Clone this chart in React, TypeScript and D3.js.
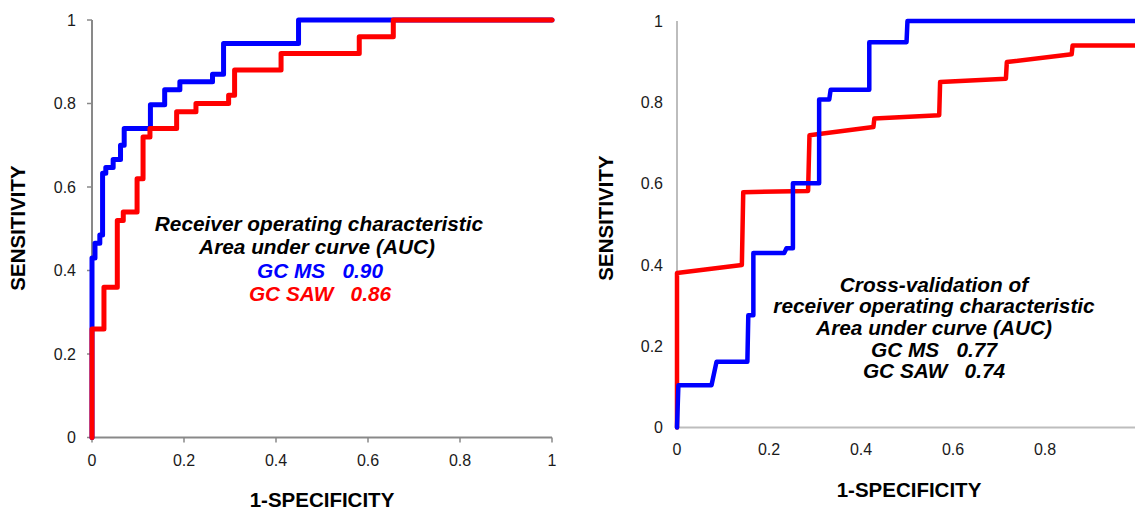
import React from "react";
import * as d3 from "d3";

const W = 1135;
const H = 511;

// Left chart: ROC (step vertices: x where curve rises, y after rise)
const leftMsX = [0, 0, 0.0065, 0.017, 0.023, 0.03, 0.046, 0.062, 0.07, 0.127, 0.158, 0.191, 0.262, 0.286, 0.449, 1];
const leftMsY = [0, 0.43, 0.465, 0.485, 0.633, 0.647, 0.666, 0.7, 0.74, 0.797, 0.833, 0.852, 0.87, 0.944, 1, 1];
const leftSawX = [0, 0, 0.026, 0.055, 0.068, 0.098, 0.111, 0.126, 0.184, 0.226, 0.297, 0.31, 0.411, 0.581, 0.655, 1];
const leftSawY = [0, 0.26, 0.36, 0.52, 0.54, 0.62, 0.72, 0.74, 0.78, 0.8, 0.82, 0.88, 0.92, 0.96, 1, 1];

// Right chart: cross-validation ROC (explicit vertices)
const rightMsX = [0, 0.003, 0.075, 0.086, 0.153, 0.155, 0.166, 0.166, 0.233, 0.238, 0.252, 0.252, 0.309, 0.309, 0.331, 0.334, 0.418, 0.418, 0.499, 0.501, 1];
const rightMsY = [0, 0.104, 0.104, 0.162, 0.162, 0.276, 0.276, 0.429, 0.429, 0.441, 0.441, 0.601, 0.601, 0.807, 0.807, 0.831, 0.831, 0.948, 0.948, 1, 1];
const rightSawX = [0, 0, 0.141, 0.144, 0.285, 0.288, 0.427, 0.429, 0.57, 0.572, 0.715, 0.717, 0.858, 0.86, 1];
const rightSawY = [0, 0.38, 0.4, 0.579, 0.582, 0.719, 0.739, 0.76, 0.768, 0.85, 0.858, 0.899, 0.918, 0.94, 0.94];

const tickValues = [0, 0.2, 0.4, 0.6, 0.8, 1];
const tickLabels = ["0", "0.2", "0.4", "0.6", "0.8", "1"];
// right x axis: the "1" label falls outside the picture
const rightXTickValues = [0, 0.2, 0.4, 0.6, 0.8];
const rightXTickLabels = ["0", "0.2", "0.4", "0.6", "0.8"];

const leftNote = ["Receiver operating characteristic", "Area under curve (AUC)"];
const leftMsLabel = "GC MS   0.90";
const leftSawLabel = "GC SAW   0.86";
const rightNote = ["Cross-validation of", "receiver operating characteristic", "Area under curve (AUC)", "GC MS   0.77", "GC SAW   0.74"];

const FONT = "'Liberation Sans', Arial, sans-serif";
const BLUE = "#0000ff";
const RED = "#ff0000";

const nb = (s: string) => s.replace(/ /g, "\u00a0");

function zip(xs: number[], ys: number[]): [number, number][] {
  return xs.map((x, i) => [x, ys[i]]);
}

export default function App() {
  const lx = d3.scaleLinear().domain([0, 1]).range([92, 552]);
  const ly = d3.scaleLinear().domain([0, 1]).range([437.5, 20]);
  const leftLine = d3
    .line<[number, number]>()
    .x((d) => lx(d[0]))
    .y((d) => ly(d[1]))
    .curve(d3.curveStepAfter);

  const rx = d3.scaleLinear().domain([0, 1]).range([677, 1137]);
  const ry = d3.scaleLinear().domain([0, 1]).range([427.5, 21]);
  const rightLine = d3
    .line<[number, number]>()
    .x((d) => rx(d[0]))
    .y((d) => ry(d[1]));

  const leftAxisColor = "#898989";
  const rightAxisColor = "#bdbdbd";
  const noteSize = 20.8;
  const titleSize = 20.5;

  return (
    <svg
      width={W}
      height={H}
      style={{ position: "absolute", left: 0, top: 0, background: "#fff" }}
      fontFamily={FONT}
    >
      <rect x={0} y={0} width={W} height={H} fill="#fff" />
      {/* ---------- LEFT CHART ---------- */}
      <g>
        <line x1={lx(0)} x2={lx(0)} y1={ly(0)} y2={ly(1)} stroke={leftAxisColor} strokeWidth={2} />
        <line x1={lx(0)} x2={lx(1)} y1={ly(0)} y2={ly(0)} stroke={leftAxisColor} strokeWidth={2} />
        {tickValues.map((t, i) => (
          <g key={"ly" + i}>
            <line x1={lx(0) - 5} x2={lx(0)} y1={ly(t)} y2={ly(t)} stroke={leftAxisColor} strokeWidth={1.5} />
            <text x={lx(0) - 16} y={ly(t)} dy="0.35em" textAnchor="end" fontSize={16} fill="#1a1a1a">
              {tickLabels[i]}
            </text>
          </g>
        ))}
        {tickValues.map((t, i) => (
          <g key={"lx" + i}>
            <line x1={lx(t)} x2={lx(t)} y1={ly(0)} y2={ly(0) + 5} stroke={leftAxisColor} strokeWidth={1.5} />
            <text x={lx(t)} y={ly(0) + 23} dy="0.35em" textAnchor="middle" fontSize={16} fill="#1a1a1a">
              {tickLabels[i]}
            </text>
          </g>
        ))}
        <text
          transform={`translate(25, ${228}) rotate(-90)`}
          textAnchor="middle"
          fontSize={titleSize}
          fontWeight="bold"
          fill="#000"
        >
          SENSITIVITY
        </text>
        <text x={322} y={507} textAnchor="middle" fontSize={titleSize} fontWeight="bold" fill="#000">
          1-SPECIFICITY
        </text>
        <path d={leftLine(zip(leftMsX, leftMsY)) || ""} fill="none" stroke={BLUE} strokeWidth={5} strokeLinejoin="round" strokeLinecap="round" />
        <path d={leftLine(zip(leftSawX, leftSawY)) || ""} fill="none" stroke={RED} strokeWidth={5} strokeLinejoin="round" strokeLinecap="round" />
        <g fontSize={noteSize} fontWeight="bold" fontStyle="italic" textAnchor="middle">
          <text x={319} y={231} fill="#000">{nb(leftNote[0])}</text>
          <text x={317} y={254} fill="#000">{nb(leftNote[1])}</text>
          <text x={320} y={278} fill={BLUE}>{nb(leftMsLabel)}</text>
          <text x={320} y={301} fill={RED}>{nb(leftSawLabel)}</text>
        </g>
      </g>

      {/* ---------- RIGHT CHART ---------- */}
      <g>
        <line x1={rx(0)} x2={rx(0)} y1={ry(0)} y2={ry(1)} stroke={rightAxisColor} strokeWidth={2} />
        <line x1={rx(0)} x2={W} y1={ry(0)} y2={ry(0)} stroke={rightAxisColor} strokeWidth={2} />
        {tickValues.map((t, i) => (
          <text key={"ry" + i} x={rx(0) - 14} y={ry(t)} dy="0.35em" textAnchor="end" fontSize={16} fill="#1a1a1a">
            {tickLabels[i]}
          </text>
        ))}
        {rightXTickValues.map((t, i) => (
          <text key={"rx" + i} x={rx(t)} y={ry(0) + 22} dy="0.35em" textAnchor="middle" fontSize={16} fill="#1a1a1a">
            {rightXTickLabels[i]}
          </text>
        ))}
        <text
          transform={`translate(613, ${218}) rotate(-90)`}
          textAnchor="middle"
          fontSize={titleSize}
          fontWeight="bold"
          fill="#000"
        >
          SENSITIVITY
        </text>
        <text x={909} y={497} textAnchor="middle" fontSize={titleSize} fontWeight="bold" fill="#000">
          1-SPECIFICITY
        </text>
        <path d={rightLine(zip(rightSawX, rightSawY)) || ""} fill="none" stroke={RED} strokeWidth={4.5} strokeLinejoin="round" strokeLinecap="round" />
        <path d={rightLine(zip(rightMsX, rightMsY)) || ""} fill="none" stroke={BLUE} strokeWidth={4.5} strokeLinejoin="round" strokeLinecap="round" />
        <g fontSize={noteSize} fontWeight="bold" fontStyle="italic" textAnchor="middle" fill="#000">
          {rightNote.map((s, i) => (
            <text key={"rn" + i} x={934} y={[291.5, 313.3, 335, 356.7, 378.3][i]}>
              {nb(s)}
            </text>
          ))}
        </g>
      </g>
    </svg>
  );
}
